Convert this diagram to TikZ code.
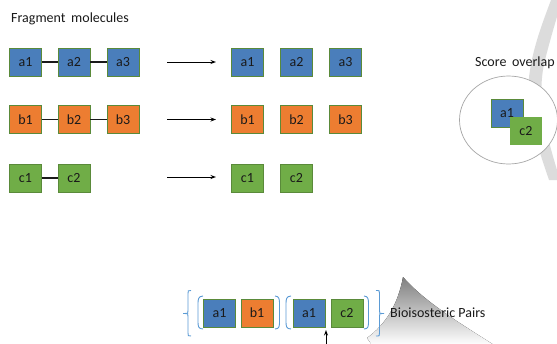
\documentclass[tikz,border=0pt]{standalone}
\usepackage{fontspec}
\setmainfont{Carlito}
\usetikzlibrary{arrows.meta,shapes.geometric}
\definecolor{fragblue}{HTML}{4A7EBB}
\definecolor{fragorange}{HTML}{ED7D31}
\definecolor{fraggreen}{HTML}{70AD47}
\definecolor{boxedge}{HTML}{5A8A3A}
\definecolor{bracketblue}{HTML}{5B9BD5}
\definecolor{shade}{HTML}{C9C9C9}
\definecolor{lightshade}{HTML}{DCDCDC}
\definecolor{inktext}{HTML}{1A1A1A}
\tikzset{
  frag/.style={draw=boxedge, line width=0.8pt, minimum width=32pt, minimum height=28pt,
    inner sep=0pt, font=\fontsize{14}{14}\selectfont, text=inktext},
  fblue/.style={frag, fill=fragblue},
  forange/.style={frag, fill=fragorange},
  fgreen/.style={frag, fill=fraggreen},
  bond/.style={draw=inktext, line width=1.5pt},
  maparrow/.style={draw=black, line width=1pt, -{Stealth[length=5.5pt,width=4pt]}},
  caption/.style={font=\fontsize{14}{14}\selectfont, text=inktext, inner sep=0pt},
  bracket/.style={draw=bracketblue, line width=0.9pt}
}
\begin{document}
\begin{tikzpicture}[x=1pt,y=-1pt]
\fill[white] (0,0) rectangle (557,343);
\useasboundingbox (0,0) rectangle (557,343);
\begin{scope}
\clip (0,0) rectangle (557,343);
% faint curved arrow behind the drawing
\fill[lightshade] (551,0) .. controls (538,35) and (520,80) .. (532,125)
  .. controls (537,145) and (543,162) .. (549,180)
  -- (560,180) .. controls (548,140) and (535,100) .. (545,60)
  .. controls (550,40) and (556,20) .. (562,0) -- cycle;
\fill[shade] (403,277) .. controls (398,305) and (385,325) .. (367,338)
  -- (372,345) -- (494,345) .. controls (458,322) and (425,302) .. (403,277) -- cycle;
\end{scope}

% headings
\node[caption, anchor=base west] (title) at (11,22.5) {Fragment\hspace{0.4em}molecules};
\node[caption, anchor=base west] (scorelabel) at (475,66.5) {Score\hspace{0.4em}overlap};

% fragment molecules
\node[fblue] (a1) at (25.5,62) {a1};
\node[fblue] (a2) at (74,62) {a2};
\node[fblue] (a3) at (123,62) {a3};
\node[forange] (b1) at (25.5,119.5) {b1};
\node[forange] (b2) at (74,119.5) {b2};
\node[forange] (b3) at (123,119.5) {b3};
\node[fgreen] (c1) at (25.5,178) {c1};
\node[fgreen] (c2) at (74,178) {c2};
\draw[bond] (a1) -- (a2); \draw[bond] (a2) -- (a3);
\draw[bond] (b1) -- (b2); \draw[bond] (b2) -- (b3);
\draw[bond] (c1) -- (c2);

% fragmentation arrows
\coordinate (sa) at (167,62);  \coordinate (ea) at (216,62);
\coordinate (sb) at (167,119.5); \coordinate (eb) at (216,119.5);
\coordinate (sc) at (167,177); \coordinate (ec) at (216,177);
\draw[maparrow] (sa) -- (ea);
\draw[maparrow] (sb) -- (eb);
\draw[maparrow] (sc) -- (ec);

% separated fragments
\node[fblue] (fa1) at (247.5,62) {a1};
\node[fblue] (fa2) at (296.5,62) {a2};
\node[fblue] (fa3) at (345.5,62) {a3};
\node[forange] (fb1) at (247.5,119.5) {b1};
\node[forange] (fb2) at (296.5,119.5) {b2};
\node[forange] (fb3) at (345.5,119.5) {b3};
\node[fgreen] (fc1) at (247.5,178) {c1};
\node[fgreen] (fc2) at (296.5,178) {c2};

% overlap scoring
\node[draw=gray!70, fill=white, line width=0.7pt, ellipse, minimum width=98pt, minimum height=88pt,
  inner sep=0pt] (scorering) at (508.5,120) {};
\node[fblue] (oa1) at (507,113) {a1};
\node[fgreen, draw=none] (oc2) at (526,131) {c2};

% bioisosteric pairs
\node[fblue] (pa1) at (219.5,313) {a1};
\node[forange] (pb1) at (257,313) {b1};
\node[fblue] (qa1) at (309,313) {a1};
\node[fgreen] (qc2) at (347,313) {c2};
\node[caption, anchor=base west] (pairs) at (390,317.5) {Bioisosteric Pairs};

% outer braces
\draw[bracket] (191,290.5) .. controls (188,290.5) .. (188,293.5) -- (188,310.5)
  .. controls (188,313.5) .. (185,313.5) -- (183,313.5);
\draw[bracket] (185,313.5) .. controls (188,313.5) .. (188,316.5) -- (188,333)
  .. controls (188,336) .. (191,336);
\draw[bracket] (376,290.5) .. controls (379.5,290.5) .. (379.5,293.5) -- (379.5,310.5)
  .. controls (379.5,313.5) .. (382,313.5) -- (384,313.5);
\draw[bracket] (382,313.5) .. controls (379.5,313.5) .. (379.5,316.5) -- (379.5,333)
  .. controls (379.5,336) .. (376,336);
% inner parentheses
\draw[bracket] (203,296) .. controls (198,296) and (198,300) .. (198,304) -- (198,321)
  .. controls (198,326) and (198,329) .. (203,329);
\draw[bracket] (275,296) .. controls (279.5,296) and (279.5,300) .. (279.5,304) -- (279.5,321)
  .. controls (279.5,326) and (279.5,329) .. (275,329);
\draw[bracket] (291,296) .. controls (286,296) and (286,300) .. (286,304) -- (286,321)
  .. controls (286,326) and (286,329) .. (291,329);
\draw[bracket] (364,296) .. controls (368.5,296) and (368.5,300) .. (368.5,304) -- (368.5,321)
  .. controls (368.5,326) and (368.5,329) .. (364,329);

% pointer below the pairs
\coordinate (ptail) at (326,344);
\coordinate (phead) at (326,330);
\draw[maparrow] (ptail) -- (phead);
\end{tikzpicture}
\end{document}
